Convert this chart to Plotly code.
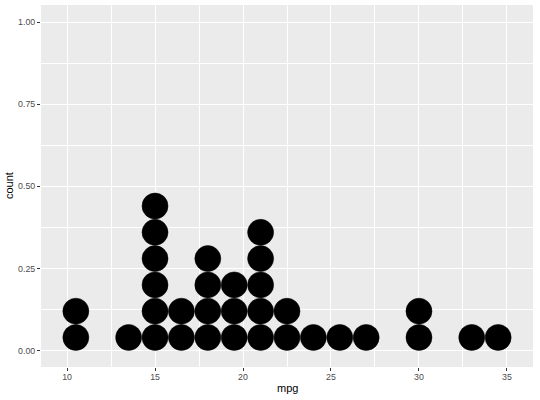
import plotly.graph_objects as go

# Dot-plot bins (centres of mpg bins) and number of cars stacked in each
bin_centers = [10.5, 13.5, 15.0, 16.5, 18.0, 19.5, 21.0, 22.5, 24.0, 25.5, 27.0, 30.0, 33.0, 34.5]
bin_counts = [2, 1, 6, 2, 4, 3, 5, 2, 1, 1, 1, 2, 1, 1]

x_ticks = [10, 15, 20, 25, 30, 35]
y_ticks = [0.0, 0.25, 0.5, 0.75, 1.0]
y_tick_labels = ["0.00", "0.25", "0.50", "0.75", "1.00"]

dot_step = 0.08  # vertical stacking step in "count" units

xs, ys = [], []
for c, n in zip(bin_centers, bin_counts):
    for k in range(n):
        xs.append(c)
        ys.append((k + 0.5) * dot_step)

fig = go.Figure(go.Scatter(
    x=xs, y=ys, mode="markers",
    marker=dict(size=26, color="black", line=dict(width=0.5, color="black")),
    hoverinfo="skip", showlegend=False,
))

font = "Liberation Sans, Arial, sans-serif"
fig.update_layout(
    width=540, height=400,
    margin=dict(l=41, r=7, t=5, b=33, autoexpand=False),
    paper_bgcolor="white", plot_bgcolor="#ebebeb",
    font=dict(family=font, color="black"),
    xaxis=dict(
        range=[8.52, 36.48], tickvals=x_ticks, ticktext=[str(t) for t in x_ticks],
        showgrid=True, gridcolor="white", gridwidth=1.1, zeroline=False,
        ticks="outside", ticklen=3, tickcolor="#333333", tickwidth=1,
        tickfont=dict(size=8.8, color="#4d4d4d", family=font),
        ticklabelstandoff=-2,
        minor=dict(tickvals=[12.5, 17.5, 22.5, 27.5, 32.5], showgrid=True,
                   gridcolor="white", gridwidth=0.5, ticks=""),
        automargin=False, showline=False,
    ),
    yaxis=dict(
        range=[-0.05, 1.052], tickvals=y_ticks, ticktext=y_tick_labels,
        showgrid=True, gridcolor="white", gridwidth=1.1, zeroline=False,
        ticks="outside", ticklen=3, tickcolor="#333333", tickwidth=1,
        tickfont=dict(size=8.8, color="#4d4d4d", family=font),
        minor=dict(tickvals=[0.125, 0.375, 0.625, 0.875], showgrid=True,
                   gridcolor="white", gridwidth=0.5, ticks=""),
        automargin=False, showline=False,
    ),
    annotations=[
        dict(text="mpg", xref="paper", yref="paper", x=0.5, y=0, yshift=-29,
             xanchor="center", yanchor="bottom", showarrow=False,
             font=dict(size=11, color="black", family=font)),
        dict(text="count", xref="paper", yref="paper", x=0, y=0.5, xshift=-40,
             xanchor="left", yanchor="middle", textangle=-90, showarrow=False,
             font=dict(size=11, color="black", family=font)),
    ],
)

fig.write_html(
    "out.html",
    config={"displayModeBar": False},
    post_script="document.body.style.margin='0';document.body.style.overflow='hidden';",
)
